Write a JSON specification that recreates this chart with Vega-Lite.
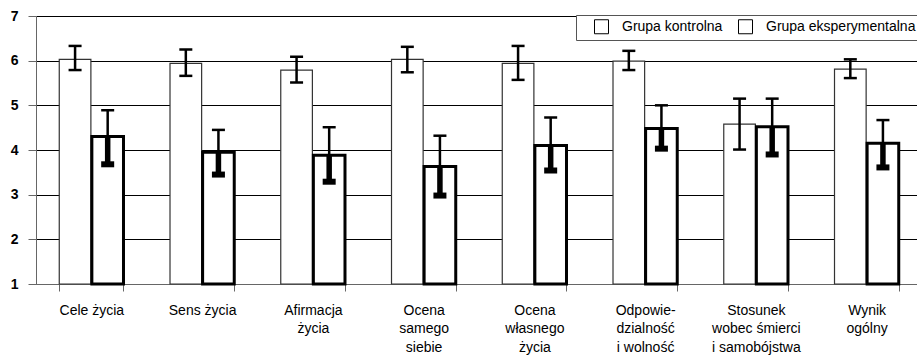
{
  "$schema": "https://vega.github.io/schema/vega-lite/v6.json",
  "width": 886,
  "height": 268,
  "autosize": "none",
  "padding": {"left": 36, "top": 16, "right": 0, "bottom": 71},
  "background": "white",
  "config": {"view": {"stroke": null}, "font": "Liberation Sans"},
  "data": {"values": [
    {"cat": "Cele życia", "group": "Grupa kontrolna", "mean": 6.03, "lo": 5.79, "hi": 6.33},
    {"cat": "Cele życia", "group": "Grupa eksperymentalna", "mean": 4.30, "lo": 3.68, "hi": 4.89},
    {"cat": "Sens życia", "group": "Grupa kontrolna", "mean": 5.94, "lo": 5.66, "hi": 6.25},
    {"cat": "Sens życia", "group": "Grupa eksperymentalna", "mean": 3.95, "lo": 3.45, "hi": 4.45},
    {"cat": "Afirmacja życia", "group": "Grupa kontrolna", "mean": 5.79, "lo": 5.51, "hi": 6.09},
    {"cat": "Afirmacja życia", "group": "Grupa eksperymentalna", "mean": 3.88, "lo": 3.29, "hi": 4.51},
    {"cat": "Ocena samego siebie", "group": "Grupa kontrolna", "mean": 6.03, "lo": 5.74, "hi": 6.31},
    {"cat": "Ocena samego siebie", "group": "Grupa eksperymentalna", "mean": 3.63, "lo": 2.98, "hi": 4.32},
    {"cat": "Ocena własnego życia", "group": "Grupa kontrolna", "mean": 5.94, "lo": 5.57, "hi": 6.33},
    {"cat": "Ocena własnego życia", "group": "Grupa eksperymentalna", "mean": 4.10, "lo": 3.54, "hi": 4.73},
    {"cat": "Odpowiedzialność i wolność", "group": "Grupa kontrolna", "mean": 5.99, "lo": 5.79, "hi": 6.22},
    {"cat": "Odpowiedzialność i wolność", "group": "Grupa eksperymentalna", "mean": 4.48, "lo": 4.03, "hi": 5.00},
    {"cat": "Stosunek wobec śmierci i samobójstwa", "group": "Grupa kontrolna", "mean": 4.58, "lo": 4.01, "hi": 5.15},
    {"cat": "Stosunek wobec śmierci i samobójstwa", "group": "Grupa eksperymentalna", "mean": 4.52, "lo": 3.90, "hi": 5.15},
    {"cat": "Wynik ogólny", "group": "Grupa kontrolna", "mean": 5.81, "lo": 5.61, "hi": 6.03},
    {"cat": "Wynik ogólny", "group": "Grupa eksperymentalna", "mean": 4.15, "lo": 3.61, "hi": 4.67}
  ]},
  "encoding": {
    "x": {
      "field": "cat", "type": "nominal", "sort": null,
      "scale": {"paddingInner": 0.42, "paddingOuter": 0.21},
      "axis": {
        "title": null, "labelAngle": 0, "tickBand": "extent", "tickSize": 7,
        "tickColor": "#666", "domainColor": "#666", "labelColor": "black",
        "labelFontSize": 14, "labelLineHeight": 18.5, "labelPadding": 12,
        "labelOverlap": false, "labelBaseline": "top",
        "labelExpr": "datum.value == 'Afirmacja życia' ? ['Afirmacja','życia'] : datum.value == 'Ocena samego siebie' ? ['Ocena','samego','siebie'] : datum.value == 'Ocena własnego życia' ? ['Ocena','własnego','życia'] : datum.value == 'Odpowiedzialność i wolność' ? ['Odpowie-','dzialność','i wolność'] : datum.value == 'Stosunek wobec śmierci i samobójstwa' ? ['Stosunek','wobec śmierci','i samobójstwa'] : datum.value == 'Wynik ogólny' ? ['Wynik','ogólny'] : datum.label"
      }
    },
    "xOffset": {"field": "group", "type": "nominal", "sort": null, "scale": {"paddingInner": 0.03}},
    "y": {
      "type": "quantitative",
      "scale": {"domain": [1, 7], "nice": false, "zero": false},
      "axis": {
        "title": null, "values": [1, 2, 3, 4, 5, 6, 7], "grid": true,
        "gridColor": "black", "gridWidth": 1, "domainColor": "#666",
        "tickColor": "#666", "tickSize": 8, "labelFontSize": 14,
        "labelFontWeight": "bold", "labelColor": "black", "labelPadding": 10
      }
    }
  },
  "layer": [
    {
      "transform": [{"filter": "datum.group == 'Grupa kontrolna'"}],
      "mark": {"type": "bar", "stroke": "#333", "strokeWidth": 1.2},
      "encoding": {
        "y": {"field": "mean"},
        "y2": {"datum": 1},
        "fill": {
          "field": "group", "type": "nominal", "sort": ["Grupa kontrolna", "Grupa eksperymentalna"],
          "scale": {"domain": ["Grupa kontrolna", "Grupa eksperymentalna"], "range": ["white", "white"]},
          "legend": {
            "orient": "none", "legendX": 540, "legendY": -1, "direction": "horizontal",
            "title": null, "fillColor": "white", "strokeColor": "#555", "padding": 4,
            "symbolType": "square", "symbolSize": 196, "symbolStrokeColor": "black",
            "symbolStrokeWidth": 1, "symbolFillColor": "white", "symbolOffset": 14,
            "labelFontSize": 14, "labelColor": "black", "labelOffset": 13, "columnPadding": 1
          }
        }
      }
    },
    {
      "transform": [{"filter": "datum.group == 'Grupa eksperymentalna'"}],
      "mark": {"type": "bar", "stroke": "black", "strokeWidth": 3},
      "encoding": {
        "y": {"field": "mean"},
        "y2": {"datum": 1},
        "fill": {"field": "group", "type": "nominal"}
      }
    },
    {
      "transform": [{"filter": "datum.group == 'Grupa kontrolna'"}],
      "mark": {"type": "rule", "color": "black", "strokeWidth": 2.5},
      "encoding": {"y": {"field": "lo"}, "y2": {"field": "hi"}}
    },
    {
      "transform": [{"filter": "datum.group == 'Grupa eksperymentalna'"}],
      "mark": {"type": "rule", "color": "black", "strokeWidth": 2.5},
      "encoding": {"y": {"field": "mean"}, "y2": {"field": "hi"}}
    },
    {
      "transform": [{"filter": "datum.group == 'Grupa eksperymentalna'"}],
      "mark": {"type": "rule", "color": "black", "strokeWidth": 5.5},
      "encoding": {"y": {"field": "lo"}, "y2": {"field": "mean"}}
    },
    {
      "mark": {"type": "tick", "color": "black", "thickness": 2.5, "size": 13, "opacity": 1},
      "encoding": {"y": {"field": "hi"}}
    },
    {
      "transform": [{"filter": "datum.group == 'Grupa kontrolna'"}],
      "mark": {"type": "tick", "color": "black", "thickness": 2.5, "size": 13, "opacity": 1},
      "encoding": {"y": {"field": "lo"}}
    },
    {
      "transform": [{"filter": "datum.group == 'Grupa eksperymentalna'"}],
      "mark": {"type": "tick", "color": "black", "thickness": 6, "size": 13, "opacity": 1},
      "encoding": {"y": {"field": "lo"}}
    }
  ]
}
